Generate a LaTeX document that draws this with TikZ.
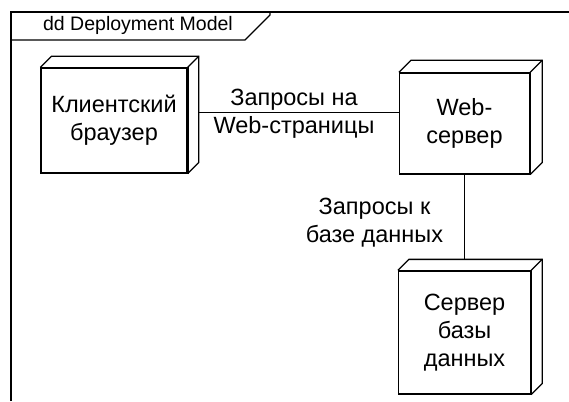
\documentclass[tikz,border=0pt]{standalone}
\usepackage{fontspec}
\setmainfont{Liberation Sans}
\usetikzlibrary{calc}
\begin{document}
\begin{tikzpicture}[x=1pt,y=-1pt,
  line/.style={line width=1.3pt},
  nodebox/.style={draw, line width=1.3pt, fill=white, inner sep=0pt, align=center,
    font=\fontsize{23.5}{28}\selectfont},
  lbl/.style={align=center, inner sep=0pt, font=\fontsize{23.5}{28}\selectfont}]
\useasboundingbox (0,0) rectangle (569,401);
\fill[white] (0,0) rectangle (569,401);

% diagram frame and its name tab
\draw[line] (11,401) -- (11,12) -- (569,12);
\draw[line] (11,40) -- (245,40) -- (270,15) -- (270,12);
\node[font=\fontsize{19.5}{23}\selectfont, anchor=base, inner sep=0pt] (title) at (138,31) {dd Deployment Model};

% deployment nodes (front faces)
\node[nodebox, minimum width=146pt, minimum height=105pt] (client) at (114,120.5) {Клиентский\\браузер};
\node[nodebox, minimum width=130pt, minimum height=101pt] (web) at (464.5,123.5) {Web-\\сервер};
\node[nodebox, minimum width=132pt, minimum height=123pt] (db) at (464.5,332.5) {Сервер\\базы\\данных};

% top and side faces of each node
\foreach \n/\off in {client/11, web/12, db/11} {
  \draw[line] (\n.north west) -- ++(\off,-\off) -- ($(\n.north east)+(\off,-\off)$)
    -- ($(\n.south east)+(\off,-\off)$) -- (\n.south east);
  \draw[line] (\n.north east) -- ++(\off,-\off);
  \draw[line width=2.6pt] (\n.north east) -- (\n.south east);
}

% communication paths
\coordinate (c1) at ($(client.east)+(11,-8)$);
\draw[line] (c1) -- (c1 -| web.west);
\coordinate (c2) at ($(web.south |- db.north)+(0,-11)$);
\draw[line] (web.south) -- (c2);

% path labels
\node[lbl] (l1) at (294,114) {Запросы на\\Web-страницы};
\node[lbl] (l2) at (374.5,222.5) {Запросы к\\базе данных};
\end{tikzpicture}
\end{document}
